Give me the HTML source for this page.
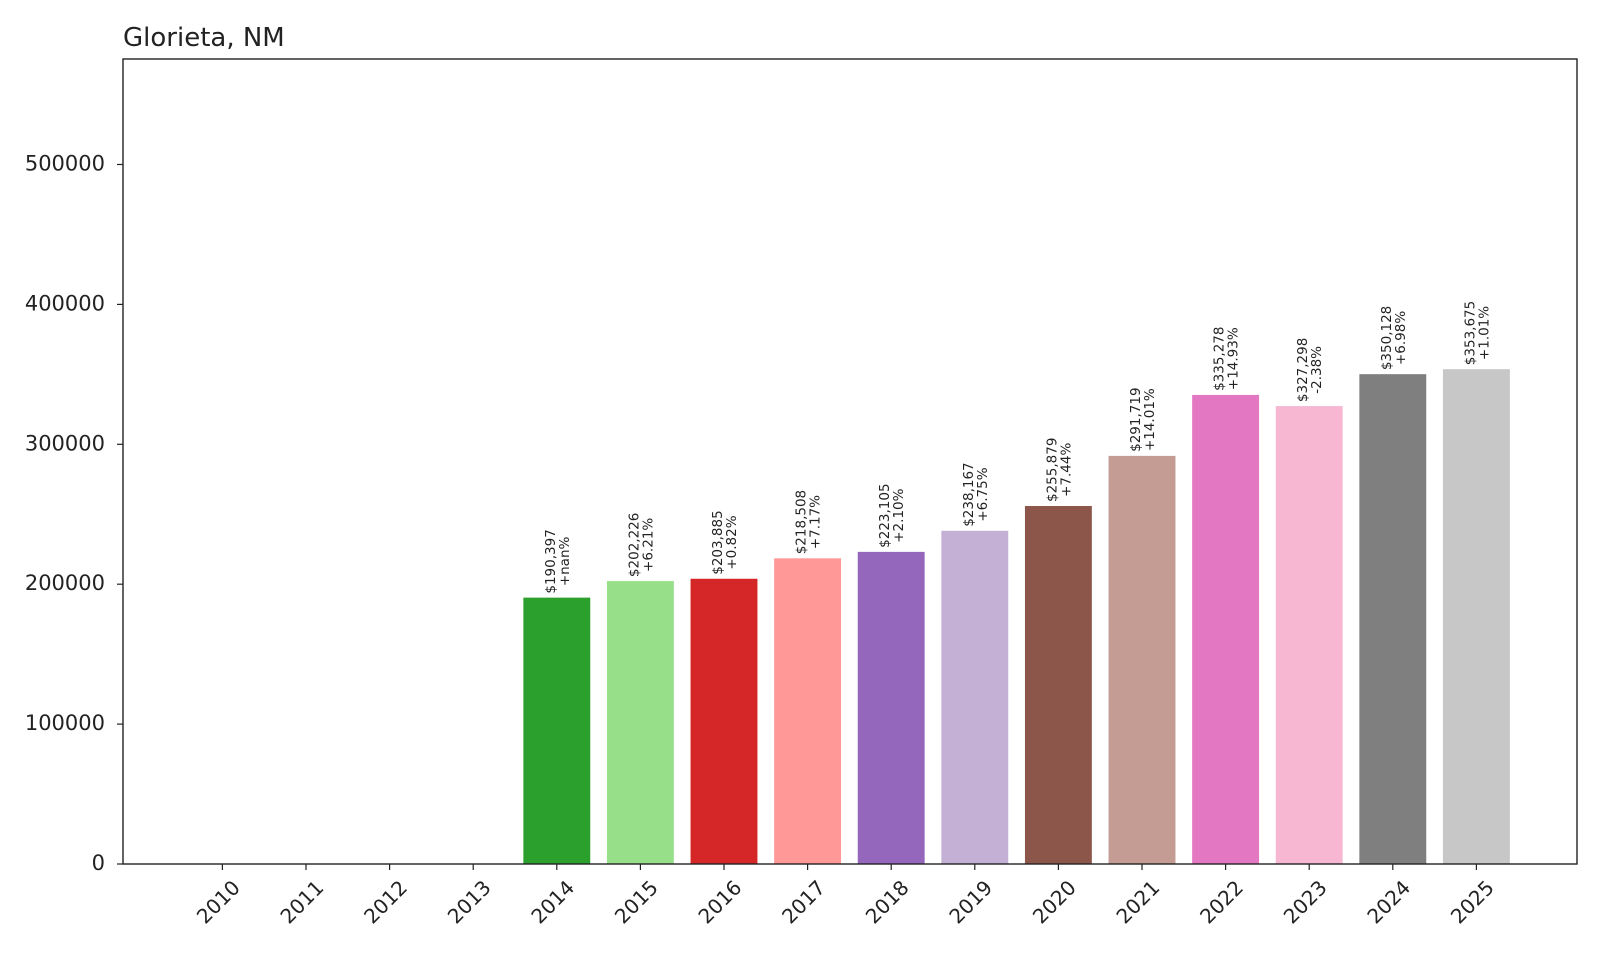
<!DOCTYPE html>
<html><head><meta charset="utf-8"><style>
html,body{margin:0;padding:0;background:#fff;}
text{font-family:"DejaVu Sans","Liberation Sans",sans-serif;fill:#222;}
</style></head><body>
<svg id="chart" width="1600" height="960" xmlns="http://www.w3.org/2000/svg">
<text x="123" y="46" font-size="26">Glorieta, NM</text>
<g id="bars"></g>
<g id="labels"></g>
<g id="axes"></g>
</svg>
<script>
const years = [2010,2011,2012,2013,2014,2015,2016,2017,2018,2019,2020,2021,2022,2023,2024,2025];
const values = [0,0,0,0,190397,202226,203885,218508,223105,238167,255879,291719,335278,327298,350128,353675];
const pctLabels = ["","","","","+nan%","+6.21%","+0.82%","+7.17%","+2.10%","+6.75%","+7.44%","+14.01%","+14.93%","-2.38%","+6.98%","+1.01%"];
const yTicks = [0,100000,200000,300000,400000,500000];
const colors = ["#1f77b4","#aec7e8","#ff7f0e","#ffbb78","#2ca02c","#98df8a","#d62728","#ff9896","#9467bd","#c5b0d5","#8c564b","#c49c94","#e377c2","#f7b6d2","#7f7f7f","#c7c7c7"];

const NS="http://www.w3.org/2000/svg";
const L=123,R=1577,T=59,B=864,YMAX=575400;
const x0=222.4, step=83.6, bw=66.9;
function xs(i){return x0+i*step;}
function ys(v){return B-(v/YMAX)*(B-T);}
function mk(tag,attrs,parent){const e=document.createElementNS(NS,tag);for(const k in attrs)e.setAttribute(k,attrs[k]);parent.appendChild(e);return e;}
const barsG=document.getElementById('bars'),labG=document.getElementById('labels'),axG=document.getElementById('axes');

years.forEach((yr,i)=>{
  const cx=xs(i),y=ys(values[i]);
  const r=mk('rect',{x:cx-bw/2,y:y,width:bw,height:Math.max(0,B-y),fill:colors[i]},barsG);
  
  
  if(values[i]>0){
    const g=mk('g',{},labG);
    
    
    const t1=mk('text',{'font-size':'13.5'},g);
    t1.textContent='$'+values[i].toLocaleString('en-US');
    const t2=mk('text',{'font-size':'13.5'},g);
    t2.textContent=pctLabels[i];
    const l1=t1.getComputedTextLength(),l2=t2.getComputedTextLength();
    const m=Math.max(l1,l2);
    const by=y-4;
    const mid=by-m/2;
    t1.setAttribute('text-anchor','middle');t2.setAttribute('text-anchor','middle');
    t1.setAttribute('transform','translate('+(cx-2)+','+mid+') rotate(-90)');
    t2.setAttribute('transform','translate('+(cx+12)+','+mid+') rotate(-90)');
  }
  const tk=mk('line',{x1:cx,x2:cx,y1:B,y2:B+6,stroke:'#222','stroke-width':1.2},axG);
  
  
  const tl=mk('text',{'font-size':'20','text-anchor':'middle','dominant-baseline':'middle',transform:'translate('+(cx-3)+',903) rotate(-45)'},axG);
  tl.textContent=yr;
  
  
});

yTicks.forEach(v=>{
  const y=ys(v);
  const tk=mk('line',{x1:L-6,x2:L,y1:y,y2:y,stroke:'#222','stroke-width':1.2},axG);
  
  
  const tl=mk('text',{x:105,y:y,'font-size':'21','text-anchor':'end','dominant-baseline':'middle'},axG);
  tl.textContent=v;
  
  
});
const frame=mk('rect',{x:L,y:T,width:R-L,height:B-T,fill:'none',stroke:'#222','stroke-width':1.4},axG);


</script>
</body></html>
